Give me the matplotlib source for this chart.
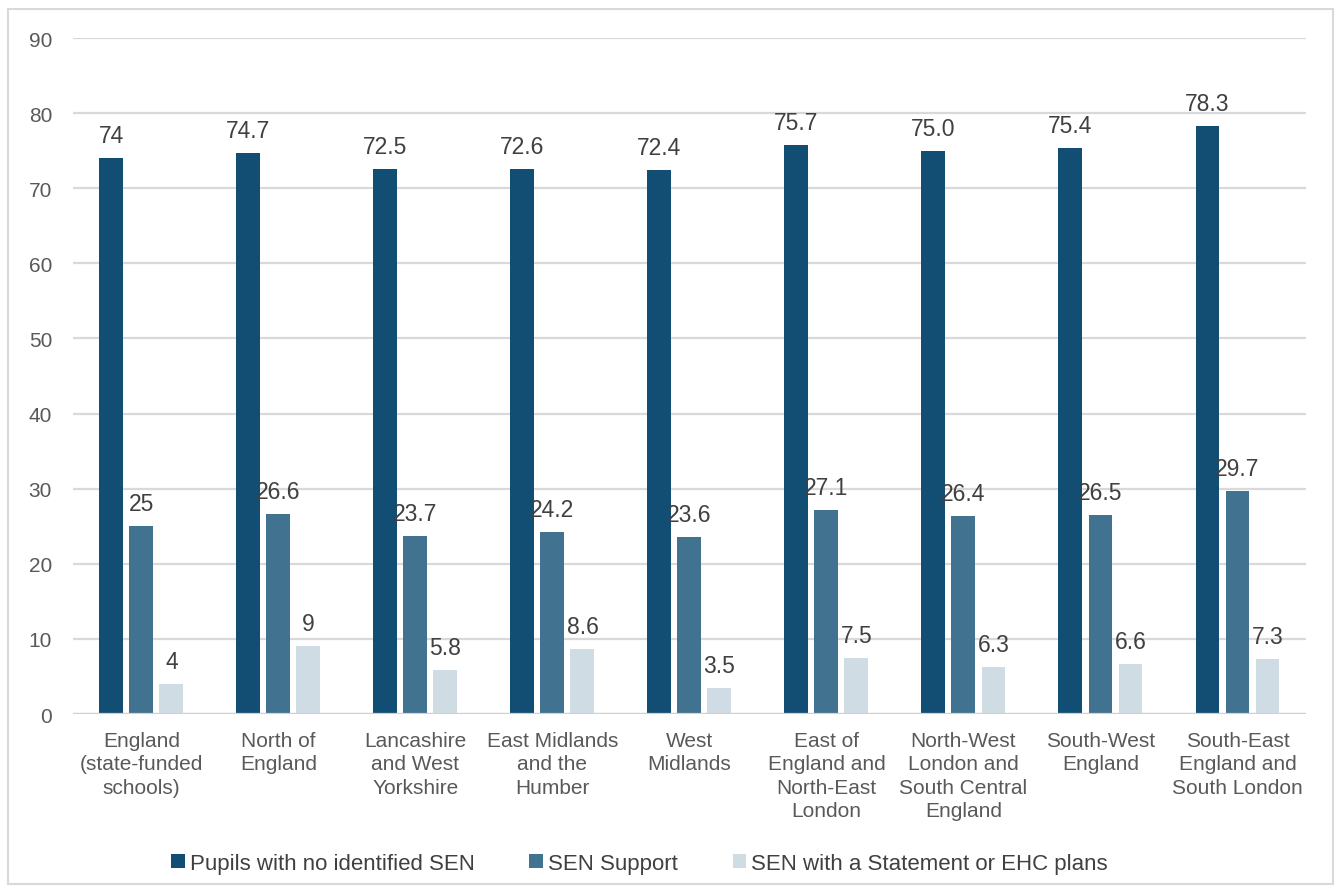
import numpy as np
import matplotlib.pyplot as plt
from matplotlib.patches import Rectangle

plt.rcParams['font.family'] = ['Liberation Sans', 'DejaVu Sans']

regions = [
    "England\n(state-funded\nschools)",
    "North of\nEngland",
    "Lancashire\nand West\nYorkshire",
    "East Midlands\nand the\nHumber",
    "West\nMidlands",
    "East of\nEngland and\nNorth-East\nLondon",
    "North-West\nLondon and\nSouth Central\nEngland",
    "South-West\nEngland",
    "South-East\nEngland and\nSouth London",
]
# values as printed on the bars
no_sen = ["74", "74.7", "72.5", "72.6", "72.4", "75.7", "75.0", "75.4", "78.3"]
sen_support = ["25", "26.6", "23.7", "24.2", "23.6", "27.1", "26.4", "26.5", "29.7"]
sen_ehc = ["4", "9", "5.8", "8.6", "3.5", "7.5", "6.3", "6.6", "7.3"]

series = [
    ("Pupils with no identified SEN", no_sen, "#124E73"),
    ("SEN Support", sen_support, "#41728F"),
    ("SEN with a Statement or EHC plans", sen_ehc, "#CFDCE4"),
]

fig = plt.figure(figsize=(13.41, 8.95), dpi=100)
ax = fig.add_axes([0.0544, 0.2011, 0.9195, 0.7553])

x = np.arange(len(regions))
w = 0.175
step = 0.219
for i, (name, vals, col) in enumerate(series):
    h = [float(v) for v in vals]
    pos = x + (i - 1) * step
    ax.bar(pos, h, width=w, color=col, label=name, zorder=3)
    for px, hv, txt in zip(pos, h, vals):
        ax.annotate(txt, (px, hv), xytext=(0, 11.5), textcoords='offset points',
                    ha='center', va='baseline', fontsize=16.5, color='#404040')

ax.set_xlim(-0.5, len(regions) - 0.5)
ax.set_ylim(0, 90)
ax.set_yticks(range(0, 91, 10))
ax.grid(axis='y', color='#D9D9D9', linewidth=1.6, zorder=0)
for s in ax.spines.values():
    s.set_visible(False)
ax.axhline(0, color='#D0D0D0', linewidth=1.6, zorder=4)
ax.tick_params(axis='both', length=0, labelcolor='#595959')
ax.tick_params(axis='y', pad=15, labelsize=15)
ax.set_xticks(x)
ax.set_xticklabels(regions, fontsize=15, linespacing=1.3)
ax.tick_params(axis='x', pad=12)

fig.legend(loc='center', bbox_to_anchor=(0.477, 0.0346), ncol=3,
           frameon=False, fontsize=16, labelcolor='#404040',
           handlelength=0.6, handleheight=0.6, handletextpad=0.25,
           columnspacing=2.45, borderpad=0, borderaxespad=0)

fig.patches.append(Rectangle((0.006, 0.011), 0.988, 0.978, transform=fig.transFigure,
                             fill=False, edgecolor='#D9D9D9', linewidth=1.5))

fig.savefig('out.png', dpi=100)
